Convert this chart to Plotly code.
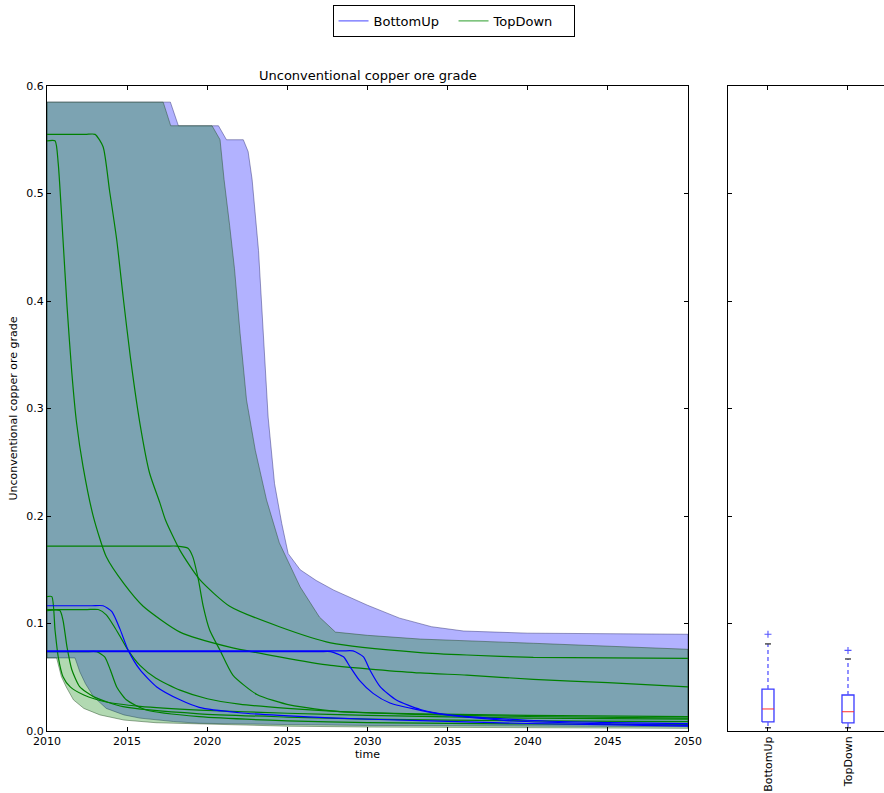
import plotly.graph_objects as go

# ---------------- data ----------------
x_ticks = [2010, 2015, 2020, 2025, 2030, 2035, 2040, 2045, 2050]

# BottomUp envelope
bu_hi_t = [2010, 2017.7, 2018.2, 2020.7, 2021.2, 2022.25, 2022.55, 2022.8, 2023.2, 2023.5, 2023.8,
           2024.2, 2024.65, 2025.05, 2025.8, 2026.8, 2027.9, 2030, 2032, 2034, 2036, 2040, 2045, 2050]
bu_hi_v = [0.585, 0.585, 0.563, 0.563, 0.55, 0.55, 0.539, 0.513, 0.447, 0.370, 0.292,
           0.230, 0.193, 0.165, 0.150, 0.140, 0.131, 0.117, 0.105, 0.097, 0.093, 0.091, 0.0905, 0.090]
bu_lo_t = [2010, 2011.75, 2012.05, 2012.4, 2012.9, 2013.7, 2014.8, 2015.8, 2017.9, 2019.5, 2025, 2030, 2040, 2050]
bu_lo_v = [0.068, 0.068, 0.055, 0.044, 0.032, 0.021, 0.015, 0.012, 0.0088, 0.0072, 0.006, 0.0052, 0.0045, 0.004]

# TopDown envelope
td_hi_t = [2010, 2017.25, 2017.72, 2020.3, 2020.8, 2021.05, 2021.4, 2021.7, 2022.05, 2022.45, 2023.0,
           2023.7, 2024.5, 2025.8, 2027.0, 2028.0, 2030, 2033.3, 2040.35, 2045, 2050]
td_hi_v = [0.585, 0.585, 0.563, 0.563, 0.55, 0.513, 0.47, 0.43, 0.37, 0.308, 0.261,
           0.215, 0.175, 0.134, 0.106, 0.092, 0.089, 0.0855, 0.0816, 0.079, 0.076]
td_lo_t = [2010, 2010.6, 2010.9, 2011.2, 2011.65, 2012.3, 2013.3, 2014.8, 2016.8, 2019.5, 2025, 2030, 2040, 2050]
td_lo_v = [0.068, 0.068, 0.0505, 0.041, 0.029, 0.021, 0.015, 0.0102, 0.0077, 0.0063, 0.0045, 0.0037, 0.003, 0.0025]

# TopDown sample runs
g1_t = [2010, 2010.5, 2010.7, 2011.0, 2011.25, 2011.55, 2011.85, 2012.25, 2012.9, 2013.7, 2014.8, 2016.0,
        2018.3, 2021.4, 2024.5, 2027.7, 2033.3, 2036.2, 2040.35, 2045, 2050]
g1_v = [0.549, 0.549, 0.528, 0.457, 0.395, 0.333, 0.286, 0.246, 0.199, 0.162, 0.137, 0.116,
        0.092, 0.078, 0.069, 0.061, 0.054, 0.052, 0.048, 0.045, 0.041]
g2_t = [2010, 2012.4, 2013.0, 2013.5, 2013.9, 2014.35, 2014.75, 2015.2, 2015.8, 2016.4, 2017.05, 2017.4, 2018.3,
        2019.55, 2021.4, 2024.5, 2027.7, 2033.3, 2036.2, 2040.35, 2045, 2050]
g2_v = [0.555, 0.555, 0.555, 0.5435, 0.503, 0.457, 0.404, 0.348, 0.286, 0.240, 0.212, 0.196, 0.168,
        0.1405, 0.116, 0.097, 0.082, 0.073, 0.0707, 0.0685, 0.068, 0.0676]
g3_t = [2010, 2017.4, 2018.1, 2018.8, 2019.1, 2019.45, 2019.75, 2020.15, 2020.8, 2021.6, 2023.1, 2025.2, 2028.3,
        2033.3, 2040, 2050]
g3_v = [0.172, 0.172, 0.172, 0.17, 0.162, 0.1405, 0.116, 0.094, 0.075, 0.052, 0.034, 0.024, 0.018,
        0.016, 0.0145, 0.0133]
g4_t = [2010, 2010.3, 2010.5, 2010.7, 2011.0, 2011.45, 2012.3, 2013.7, 2015.8, 2019.5, 2025, 2030, 2040, 2050]
g4_v = [0.125, 0.125, 0.094, 0.069, 0.0505, 0.041, 0.0335, 0.027, 0.023, 0.0195, 0.0165, 0.0145, 0.012, 0.011]
g5_t = [2010, 2012.5, 2013.2, 2013.7, 2014.2, 2014.6, 2015.07, 2015.8, 2016.8, 2018.3, 2020, 2022, 2025, 2028.3,
        2033, 2040, 2050]
g5_v = [0.113, 0.113, 0.113, 0.108, 0.097, 0.087, 0.075, 0.061, 0.049, 0.038, 0.030, 0.025, 0.021, 0.018,
        0.0155, 0.0135, 0.012]
g6_t = [2010, 2010.8, 2011.0, 2011.25, 2011.55, 2012.05, 2012.9, 2014.75, 2019.5, 2025, 2030, 2040, 2050]
g6_v = [0.112, 0.112, 0.103, 0.078, 0.057, 0.041, 0.032, 0.0226, 0.016, 0.013, 0.011, 0.0095, 0.0087]
g7_t = [2010, 2012.4, 2013.1, 2013.6, 2013.95, 2014.35, 2014.95, 2016.2, 2019.5, 2025, 2030, 2040, 2050]
g7_v = [0.0738, 0.0738, 0.0738, 0.069, 0.057, 0.041, 0.029, 0.0195, 0.0133, 0.0095, 0.0078, 0.0065, 0.006]

# BottomUp sample runs
b1_t = [2010, 2012.8, 2013.5, 2014.05, 2014.55, 2015.07, 2015.8, 2016.85, 2018.3, 2019.5, 2022, 2024.5, 2028,
        2033.3, 2040, 2050]
b1_v = [0.1165, 0.1165, 0.1165, 0.111, 0.095, 0.075, 0.057, 0.041, 0.029, 0.022, 0.017, 0.0145, 0.012,
        0.0096, 0.007, 0.0045]
b2_t = [2010, 2027.0, 2027.7, 2028.5, 2028.9, 2029.5, 2030.35, 2031.4, 2033.3, 2034.9, 2039.1, 2045.3, 2050]
b2_v = [0.0738, 0.0738, 0.0738, 0.069, 0.060, 0.047, 0.035, 0.026, 0.0192, 0.0149, 0.0093, 0.0065, 0.0052]
b3_t = [2010, 2028.4, 2029.1, 2029.75, 2030.15, 2030.8, 2031.8, 2033.3, 2035, 2040, 2045, 2050]
b3_v = [0.0745, 0.0745, 0.0745, 0.069, 0.0567, 0.041, 0.0288, 0.020, 0.0152, 0.010, 0.0078, 0.0068]

green_runs = [(g1_t, g1_v), (g2_t, g2_v), (g3_t, g3_v), (g4_t, g4_v),
              (g5_t, g5_v), (g6_t, g6_v), (g7_t, g7_v)]
blue_runs = [(b1_t, b1_v), (b2_t, b2_v), (b3_t, b3_v)]

# Boxplot statistics (final-year distribution)
box_labels = ["BottomUp", "TopDown"]
box_pos = [1, 2]
box_q1 = [0.0084, 0.0075]
box_med = [0.0205, 0.018]
box_q3 = [0.039, 0.0335]
box_lo = [0.003, 0.003]
box_hi = [0.081, 0.067]
box_fliers = [[0.090], [0.075]]

# ---------------- figure ----------------
FONT = "DejaVu Sans"
fig = go.Figure()


def band(hi_t, hi_v, lo_t, lo_v, fillcolor, linecolor):
    xs = list(hi_t) + list(reversed(lo_t)) + [hi_t[0]]
    ys = list(hi_v) + list(reversed(lo_v)) + [hi_v[0]]
    fig.add_trace(go.Scatter(x=xs, y=ys, fill="toself", fillcolor=fillcolor, mode="lines",
                             line=dict(color=linecolor, width=1), showlegend=False, hoverinfo="skip"))


band(bu_hi_t, bu_hi_v, bu_lo_t, bu_lo_v, "rgba(0,0,255,0.3)", "rgba(40,40,110,0.45)")
band(td_hi_t, td_hi_v, td_lo_t, td_lo_v, "rgba(0,128,0,0.3)", "rgba(30,70,30,0.45)")

for t, v in green_runs:
    fig.add_trace(go.Scatter(x=t, y=v, mode="lines",
                             line=dict(color="#008000", width=1.2, shape="spline", smoothing=0.6),
                             showlegend=False, hoverinfo="skip"))
for t, v in blue_runs:
    fig.add_trace(go.Scatter(x=t, y=v, mode="lines",
                             line=dict(color="#0000ff", width=1.2, shape="spline", smoothing=0.6),
                             showlegend=False, hoverinfo="skip"))

# legend entries
fig.add_trace(go.Scatter(x=[None], y=[None], mode="lines", name="BottomUp",
                         line=dict(color="#6a6aff", width=1.3), legendrank=1))
fig.add_trace(go.Scatter(x=[None], y=[None], mode="lines", name="TopDown",
                         line=dict(color="#55b055", width=1.3), legendrank=2))

# boxplots
bw = 0.15
cw = 0.075
box_col = "#3a3aff"
for i, p in enumerate(box_pos):
    fig.add_trace(go.Scatter(x=[p - bw / 2, p + bw / 2, p + bw / 2, p - bw / 2, p - bw / 2],
                             y=[box_q1[i], box_q1[i], box_q3[i], box_q3[i], box_q1[i]],
                             mode="lines", line=dict(color=box_col, width=1.3),
                             xaxis="x2", yaxis="y2", showlegend=False, hoverinfo="skip"))
    fig.add_trace(go.Scatter(x=[p - bw / 2, p + bw / 2], y=[box_med[i], box_med[i]],
                             mode="lines", line=dict(color="rgba(255,40,40,0.75)", width=1.3),
                             xaxis="x2", yaxis="y2", showlegend=False, hoverinfo="skip"))
    for a, b in [(box_q3[i], box_hi[i]), (box_q1[i], box_lo[i])]:
        fig.add_trace(go.Scatter(x=[p, p], y=[a, b], mode="lines",
                                 line=dict(color="#5555ff", width=1.3, dash="4px,3px"),
                                 xaxis="x2", yaxis="y2", showlegend=False, hoverinfo="skip"))
    for c in [box_hi[i], box_lo[i]]:
        fig.add_trace(go.Scatter(x=[p - cw / 2, p + cw / 2], y=[c, c], mode="lines",
                                 line=dict(color="#333333", width=1.3),
                                 xaxis="x2", yaxis="y2", showlegend=False, hoverinfo="skip"))
    fig.add_trace(go.Scatter(x=[p] * len(box_fliers[i]), y=box_fliers[i], mode="markers",
                             marker=dict(symbol="cross-thin", size=5,
                                         line=dict(color="#5555ff", width=1.1)),
                             xaxis="x2", yaxis="y2", showlegend=False, hoverinfo="skip"))

axis_common = dict(showgrid=False, zeroline=False, showline=True, linecolor="black", linewidth=1,
                   ticks="inside", ticklen=4, tickcolor="black", automargin=False,
                   tickfont=dict(family=FONT, size=11, color="black"))

fig.update_layout(
    template="none",
    width=884, height=793,
    margin=dict(l=47, r=0, t=86, b=62, autoexpand=False),
    paper_bgcolor="white", plot_bgcolor="white",
    font=dict(family=FONT, size=11, color="black"),
    xaxis=dict(domain=[0, 0.7658], range=[2010, 2050], tickvals=x_ticks, mirror="ticks",
               title=dict(text="time", font=dict(family=FONT, size=11), standoff=2),
               **axis_common),
    yaxis=dict(domain=[0, 1], range=[0, 0.6], dtick=0.1, tick0=0, tickformat=".1f", mirror="ticks",
               title=dict(text="Unconventional copper ore grade", font=dict(family=FONT, size=11),
                          standoff=6),
               **axis_common),
    xaxis2=dict(domain=[0.8136, 1], range=[0.5, 2.45], tickvals=box_pos, ticktext=box_labels,
                tickangle=-90, anchor="y2", mirror="ticks", **axis_common),
    yaxis2=dict(domain=[0, 1], range=[0, 0.6], dtick=0.1, tick0=0, anchor="x2",
                showticklabels=False, mirror=False, **axis_common),
    legend=dict(orientation="h", x=0.4857, xanchor="center", y=1.1256, yanchor="top",
                bordercolor="black", borderwidth=1, bgcolor="white",
                font=dict(family=FONT, size=13, color="black"),
                entrywidth=75, entrywidthmode="pixels", traceorder="normal"),
    annotations=[dict(text="Unconventional copper ore grade", xref="paper", yref="paper",
                      x=0.383, y=1.0, xanchor="center", yanchor="bottom", yshift=1,
                      showarrow=False, font=dict(family=FONT, size=13, color="black"))],
)

fig.write_html("out.html")
